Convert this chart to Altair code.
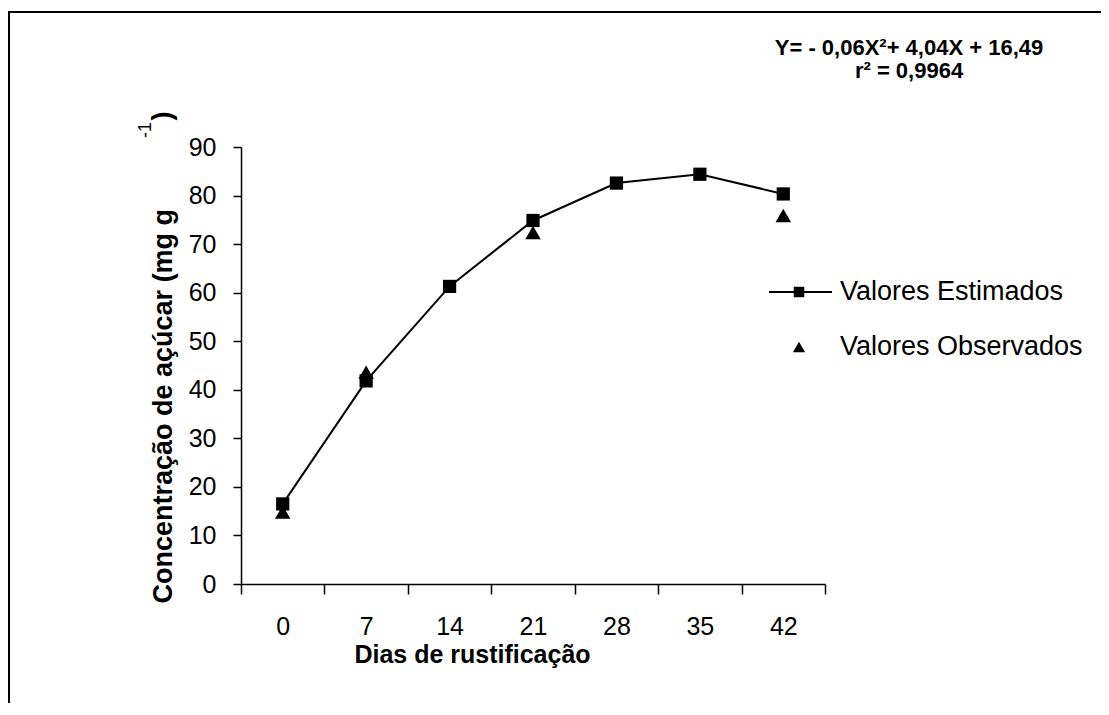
import altair as alt
import pandas as pd

# ---- data ----
dias = ["0", "7", "14", "21", "28", "35", "42"]
estimados = [16.49, 41.83, 61.29, 74.87, 82.57, 84.39, 80.33]
dias_obs = ["0", "7", "21", "42"]
observados = [14.8, 43.6, 72.4, 75.9]
y_ticks = [0, 10, 20, 30, 40, 50, 60, 70, 80, 90]
legend_labels = ["Valores Estimados", "Valores Observados"]
equation_lines = ["Y= - 0,06X\u00b2+ 4,04X + 16,49", "r\u00b2 = 0,9964"]

FONT = "Liberation Sans"
W, H = 584, 437

est_df = pd.DataFrame({"Dias": dias, "Valor": estimados})
obs_df = pd.DataFrame({"Dias": dias_obs, "Valor": observados})

x_scale = alt.Scale(type="band", domain=dias, paddingInner=0, paddingOuter=0)
y_scale = alt.Scale(domain=[0, 90], nice=False, zero=True)

x_axis = alt.Axis(
    title="Dias de rustifica\u00e7\u00e3o", labelAngle=0, tickBand="extent",
    tickSize=10, labelPadding=20, labelFontSize=25, labelFont=FONT,
    labelColor="black", domainColor="black", tickColor="black",
    domainWidth=1.5, tickWidth=1.5, grid=False,
    titleFont=FONT, titleFontSize=25, titleFontWeight="bold", titleColor="black",
    titleX=231, titleY=70, titleAlign="center", titleBaseline="middle",
)
y_axis = alt.Axis(
    title="Concentra\u00e7\u00e3o de a\u00e7\u00facar (mg g", values=y_ticks,
    tickSize=8, labelPadding=17, labelFontSize=25, labelFont=FONT,
    labelColor="black", domainColor="black", tickColor="black",
    domainWidth=1.5, tickWidth=1.5, grid=False,
    titleFont=FONT, titleFontSize=27, titleFontWeight="bold", titleColor="black",
    titleAngle=270, titleX=-78, titleY=456, titleAlign="left", titleBaseline="middle",
)

line = alt.Chart(est_df).mark_line(color="black", strokeWidth=2).encode(
    x=alt.X("Dias:O", scale=x_scale, axis=x_axis, bandPosition=0.5, sort=dias),
    y=alt.Y("Valor:Q", scale=y_scale, axis=y_axis),
)
squares = alt.Chart(est_df).mark_point(
    shape="square", filled=True, color="black", opacity=1, size=175
).encode(
    x=alt.X("Dias:O", scale=x_scale, bandPosition=0.5, sort=dias),
    y=alt.Y("Valor:Q", scale=y_scale),
)
triangles = alt.Chart(obs_df).mark_point(
    shape="triangle-up", filled=True, color="black", opacity=1, size=240
).encode(
    x=alt.X("Dias:O", scale=x_scale, bandPosition=0.5, sort=dias),
    y=alt.Y("Valor:Q", scale=y_scale),
)

one = pd.DataFrame({"k": [0]})

# legend (drawn by hand, as in the reference)
leg_line = alt.Chart(one).mark_rule(color="black", strokeWidth=2).encode(
    x=alt.value(528), x2=alt.value(591), y=alt.value(145)
)
leg_sq = alt.Chart(one).mark_point(shape="square", filled=True, color="black", opacity=1, size=110).encode(
    x=alt.value(558), y=alt.value(145)
)
leg_tri = alt.Chart(one).mark_point(shape="triangle-up", filled=True, color="black", opacity=1, size=150).encode(
    x=alt.value(558), y=alt.value(200)
)
leg_t1 = alt.Chart(pd.DataFrame({"t": [legend_labels[0]]})).mark_text(
    align="left", baseline="middle", font=FONT, fontSize=27, color="black"
).encode(text="t:N", x=alt.value(599), y=alt.value(145))
leg_t2 = alt.Chart(pd.DataFrame({"t": [legend_labels[1]]})).mark_text(
    align="left", baseline="middle", font=FONT, fontSize=27, color="black"
).encode(text="t:N", x=alt.value(599), y=alt.value(200))

# equation
eq1 = alt.Chart(pd.DataFrame({"t": [equation_lines[0]]})).mark_text(
    align="center", baseline="middle", font=FONT, fontSize=22, fontWeight="bold", color="black"
).encode(text="t:N", x=alt.value(668), y=alt.value(-99))
eq2 = alt.Chart(pd.DataFrame({"t": [equation_lines[1]]})).mark_text(
    align="center", baseline="middle", font=FONT, fontSize=22, fontWeight="bold", color="black"
).encode(text="t:N", x=alt.value(668), y=alt.value(-76))

# remaining pieces of the y title: superscript -1 and closing bracket
sup = alt.Chart(pd.DataFrame({"t": ["-1"]})).mark_text(
    align="center", baseline="middle", font=FONT, fontSize=18, angle=270, color="black"
).encode(text="t:N", x=alt.value(-95), y=alt.value(-17))
close_br = alt.Chart(pd.DataFrame({"t": [")"]})).mark_text(
    align="center", baseline="middle", font=FONT, fontSize=27, fontWeight="bold", angle=270, color="black"
).encode(text="t:N", x=alt.value(-78), y=alt.value(-31))

# frame lines (top and left)
frame_left = alt.Chart(one).mark_rule(color="black", strokeWidth=2).encode(
    x=alt.value(-232), y=alt.value(-135), y2=alt.value(560)
)
frame_top = alt.Chart(one).mark_rule(color="black", strokeWidth=2).encode(
    x=alt.value(-233), x2=alt.value(870), y=alt.value(-135)
)

chart = alt.layer(
    frame_left, frame_top, line, triangles, squares,
    leg_line, leg_sq, leg_tri, leg_t1, leg_t2, eq1, eq2, sup, close_br,
).properties(
    width=W, height=H,
    autosize=alt.AutoSizeParams(type="none"),
    padding={"left": 233, "top": 139, "right": 276, "bottom": 119},
    background="white",
).configure_view(stroke=None)

chart.save("out.html", embed_options={"renderer": "svg", "actions": False})
